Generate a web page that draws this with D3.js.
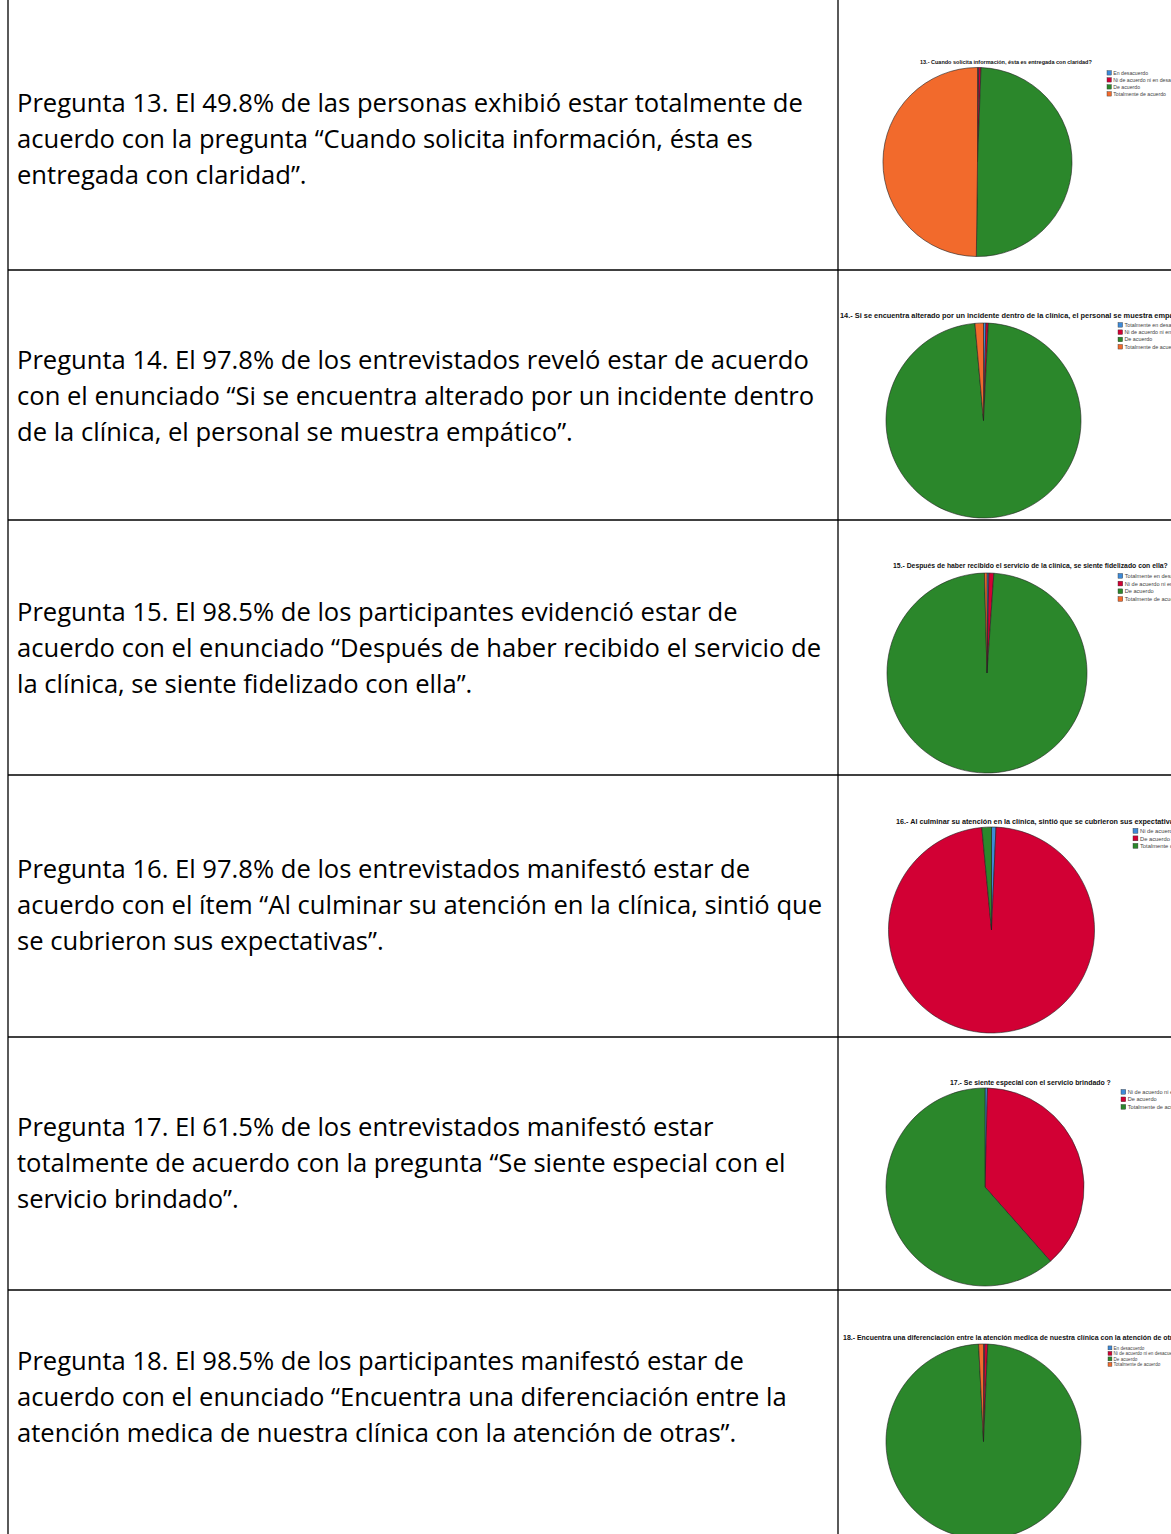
<!DOCTYPE html>
<html>
<head>
<meta charset="utf-8">
<script src="https://cdn.jsdelivr.net/npm/d3@7"></script>
<style>
html,body{margin:0;padding:0;background:#fff;}
svg{display:block;}
</style>
</head>
<body>
<svg id="c" width="1171" height="1534"></svg>
<script>
// ---------- DATA ----------
const questions = ["13", "14", "15", "16", "17", "18"];

const paragraphs = [
  ["Pregunta 13. El 49.8% de las personas exhibió estar totalmente de",
   "acuerdo con la pregunta “Cuando solicita información, ésta es",
   "entregada con claridad”."],
  ["Pregunta 14. El 97.8% de los entrevistados reveló estar de acuerdo",
   "con el enunciado “Si se encuentra alterado por un incidente dentro",
   "de la clínica, el personal se muestra empático”."],
  ["Pregunta 15. El 98.5% de los participantes evidenció estar de",
   "acuerdo con el enunciado “Después de haber recibido el servicio de",
   "la clínica, se siente fidelizado con ella”."],
  ["Pregunta 16. El 97.8% de los entrevistados manifestó estar de",
   "acuerdo con el ítem “Al culminar su atención en la clínica, sintió que",
   "se cubrieron sus expectativas”."],
  ["Pregunta 17. El 61.5% de los entrevistados manifestó estar",
   "totalmente de acuerdo con la pregunta “Se siente especial con el",
   "servicio brindado”."],
  ["Pregunta 18. El 98.5% de los participantes manifestó estar de",
   "acuerdo con el enunciado “Encuentra una diferenciación entre la",
   "atención medica de nuestra clínica con la atención de otras”."]
];

const chartTitles = [
  "13.- Cuando solicita información, ésta es entregada con claridad?",
  "14.- Si se encuentra alterado por un incidente dentro de la clínica, el personal se muestra empático?",
  "15.- Después de haber recibido el servicio de la clínica, se siente fidelizado con ella?",
  "16.- Al culminar su atención en la clínica, sintió que se cubrieron sus expectativas?",
  "17.- Se siente especial con el servicio brindado ?",
  "18.- Encuentra una diferenciación entre la atención medica de nuestra clínica con la atención de otras?"
];

const categories13 = ["En desacuerdo", "Ni de acuerdo ni en desacuerdo", "De acuerdo", "Totalmente de acuerdo"];
const values13 = [0.2, 0.4, 49.6, 49.8];
const categories14 = ["Totalmente en desacuerdo", "Ni de acuerdo ni en desacuerdo", "De acuerdo", "Totalmente de acuerdo"];
const values14 = [0.4, 0.4, 97.8, 1.4];
const categories15 = ["Totalmente en desacuerdo", "Ni de acuerdo ni en desacuerdo", "De acuerdo", "Totalmente de acuerdo"];
const values15 = [0.3, 0.8, 98.5, 0.4];
const categories16 = ["Ni de acuerdo ni en desacuerdo", "De acuerdo", "Totalmente de acuerdo"];
const values16 = [0.7, 97.8, 1.5];
const categories17 = ["Ni de acuerdo ni en desacuerdo", "De acuerdo", "Totalmente de acuerdo"];
const values17 = [0.4, 38.1, 61.5];
const categories18 = ["En desacuerdo", "Ni de acuerdo ni en desacuerdo", "De acuerdo", "Totalmente de acuerdo"];
const values18 = [0.2, 0.5, 98.5, 0.8];

const allCategories = [categories13, categories14, categories15, categories16, categories17, categories18];
const allValues = [values13, values14, values15, values16, values17, values18];

// ---------- LAYOUT / STYLE ----------
const sliceColors = ["#3d8ad8", "#d20034", "#2b872b", "#f26a2c"];
const rowBorders = [270, 520, 775, 1037, 1290];
const firstLineY = [112, 369, 621, 878, 1136, 1370];
const lineGap = 36;
const leftX = 8, midX = 838, W = 1171, H = 1534;
const refFirstLineWidth = 786;

const pieLayout = [
  {cx: 977.5, cy: 162, r: 94.5, tx: 920, ty: 64, tw: 172, lx: 1107, ly: 73, lg: 7, lf: 5.2},
  {cx: 983.5, cy: 420.5, r: 97.5, tx: 840, ty: 318, tw: 352, lx: 1118, ly: 325, lg: 7.3, lf: 5.4},
  {cx: 987, cy: 673, r: 100, tx: 893, ty: 568, tw: 275, lx: 1118, ly: 576, lg: 7.7, lf: 5.6},
  {cx: 991.5, cy: 930, r: 103, tx: 896, ty: 824, tw: 287, lx: 1133, ly: 831, lg: 7.5, lf: 5.8},
  {cx: 985, cy: 1187, r: 99, tx: 950, ty: 1085, tw: 161, lx: 1121, ly: 1092, lg: 7.5, lf: 5.6},
  {cx: 983.5, cy: 1441.5, r: 97.5, tx: 843, ty: 1340, tw: 342, lx: 1108, ly: 1348, lg: 5.5, lf: 4.6}
];

const svg = d3.select("#c");

// table borders
const g = svg.append("g").attr("stroke", "#000").attr("stroke-width", 1.3);
g.append("line").attr("x1", leftX).attr("x2", leftX).attr("y1", 0).attr("y2", H);
g.append("line").attr("x1", midX).attr("x2", midX).attr("y1", 0).attr("y2", H);
rowBorders.forEach(y => {
  g.append("line").attr("x1", leftX).attr("x2", W).attr("y1", y).attr("y2", y);
});

// paragraphs (Calibri-like metrics approximated with Open Sans)
const probe = svg.append("text").attr("font-family", "'Open Sans', sans-serif")
  .attr("font-size", 22).text(paragraphs[0][0]);
const baseW = probe.node().getComputedTextLength();
probe.remove();
const paraSize = 22 * refFirstLineWidth / baseW;

paragraphs.forEach((lines, i) => {
  const t = svg.append("text")
    .attr("font-family", "'Open Sans', sans-serif")
    .attr("font-size", paraSize)
    .attr("fill", "#000");
  lines.forEach((ln, j) => {
    t.append("tspan").attr("x", 17).attr("y", firstLineY[i] + j * lineGap).text(ln);
  });
});

// pies
const pie = d3.pie().sort(null).value(d => d);

questions.forEach((q, i) => {
  const L = pieLayout[i];
  const cats = allCategories[i];
  const vals = allValues[i];
  const color = d3.scaleOrdinal().domain(cats).range(sliceColors);
  const arc = d3.arc().innerRadius(0).outerRadius(L.r);
  const gp = svg.append("g").attr("transform", `translate(${L.cx},${L.cy})`);
  gp.selectAll("path").data(pie(vals)).join("path")
    .attr("d", arc)
    .attr("fill", (d, k) => color(cats[k]))
    .attr("stroke", "#222")
    .attr("stroke-width", 0.6);

  // title, sized to the reference's rendered width
  const tt = svg.append("text")
    .attr("x", L.tx).attr("y", L.ty)
    .attr("font-family", "'Liberation Sans', Arial, sans-serif")
    .attr("font-weight", "bold")
    .attr("font-size", 10)
    .attr("fill", "#111")
    .text(chartTitles[i]);
  const w10 = tt.node().getComputedTextLength();
  tt.attr("font-size", 10 * L.tw / w10);

  const lg = svg.append("g");
  cats.forEach((c, k) => {
    const y = L.ly + k * L.lg;
    lg.append("rect").attr("x", L.lx).attr("y", y - L.lf * 0.45)
      .attr("width", L.lf * 0.85).attr("height", L.lf * 0.85)
      .attr("fill", color(c)).attr("stroke", "#333").attr("stroke-width", 0.4);
    lg.append("text").attr("x", L.lx + L.lf * 1.2).attr("y", y + L.lf * 0.35)
      .attr("font-family", "'Liberation Sans', Arial, sans-serif")
      .attr("font-size", L.lf).attr("fill", "#444")
      .text(c);
  });
});
</script>
</body>
</html>
